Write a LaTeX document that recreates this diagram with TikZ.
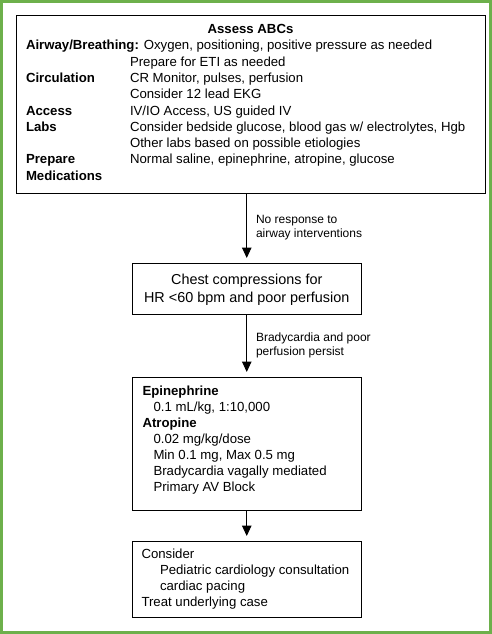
\documentclass[tikz,border=0pt]{standalone}
\usepackage{fontspec}
\setmainfont{Liberation Sans}
\usetikzlibrary{arrows.meta,positioning}
\definecolor{framegreen}{HTML}{6DB04B}
\tikzset{>=Latex,line width=.8pt,
  every node/.style={inner sep=0pt,outer sep=0pt},
  box/.style={draw,line width=1pt},
  flow/.style={-{Triangle[width=9.5pt,length=10.5pt]},line width=1pt,shorten >=5pt},
  body/.style={font=\fontsize{13.2}{16}\selectfont,anchor=base west},
  big/.style={font=\fontsize{14.4}{18}\selectfont,anchor=base},
  note/.style={font=\fontsize{12}{14}\selectfont,anchor=base west}}
\begin{document}
\begin{tikzpicture}[x=1pt,y=-1pt]
\useasboundingbox(0,0)rectangle(492,634);
\draw[framegreen,line width=3pt](1.5,1.5)rectangle(490.5,632.5);
\node[box,minimum width=469pt,minimum height=177pt](abc)at(250.5,104.5){};
\node[box,minimum width=229.5pt,minimum height=51pt](chest)at(246.75,288.5){};
\node[box,minimum width=229.5pt,minimum height=133pt](meds)at(246.75,443.5){};
\node[box,minimum width=229.5pt,minimum height=76pt](consider)at(246.75,579){};
\node[body,anchor=base](abctitle)at(250.5,34){\textbf{Assess ABCs}};
\node[body](airway)at(26,50){\textbf{Airway/Breathing:} Oxygen, positioning, positive pressure as needed};
\foreach \lbl/\yy in {Circulation/82.5,Access/115,Labs/131.25,Prepare/163.75,Medications/180}{\node[body](lbl\lbl)at(26,\yy){\textbf{\lbl}};}
\foreach \txt [count=\k from 2] in {{Prepare for ETI as needed},{CR Monitor, pulses, perfusion},{Consider 12 lead EKG},{IV/IO Access, US guided IV},{Consider bedside glucose, blood gas w/ electrolytes, Hgb},{Other labs based on possible etiologies},{Normal saline, epinephrine, atropine, glucose}}{\node[body](abc\k)at(130,{33.75+16.25*\k}){\txt};}
\node[big](chest1)at(246.75,284){Chest compressions for};
\node[big](chest2)at(246.75,302){HR <60 bpm and poor perfusion};
\node[body](epi)at(142.5,395){\textbf{Epinephrine}};
\node[body](epidose)at(153.5,411.1){0.1 mL/kg, 1:10,000};
\node[body](atro)at(142.5,427.2){\textbf{Atropine}};
\foreach \txt [count=\k] in {{0.02 mg/kg/dose},{Min 0.1 mg, Max 0.5 mg},{Bradycardia vagally mediated},{Primary AV Block}}{\node[body](atro\k)at(153.5,{427.2+16.1*\k}){\txt};}
\node[body](cons)at(141.5,558){Consider};
\node[body](cons1)at(160,574){Pediatric cardiology consultation};
\node[body](cons2)at(160,590){cardiac pacing};
\node[body](treat)at(141.5,606.2){Treat underlying case};
\draw[flow](abc.south -| chest.north)--(chest.north);
\draw[flow](chest.south)--(meds.north);
\draw[flow](meds.south)--(consider.north);
\node[note](noresp1)at(256,223.5){No response to};
\node[note](noresp2)at(256,237.5){airway interventions};
\node[note](brady1)at(256,341.5){Bradycardia and poor};
\node[note](brady2)at(256,355.5){perfusion persist};
\end{tikzpicture}
\end{document}
